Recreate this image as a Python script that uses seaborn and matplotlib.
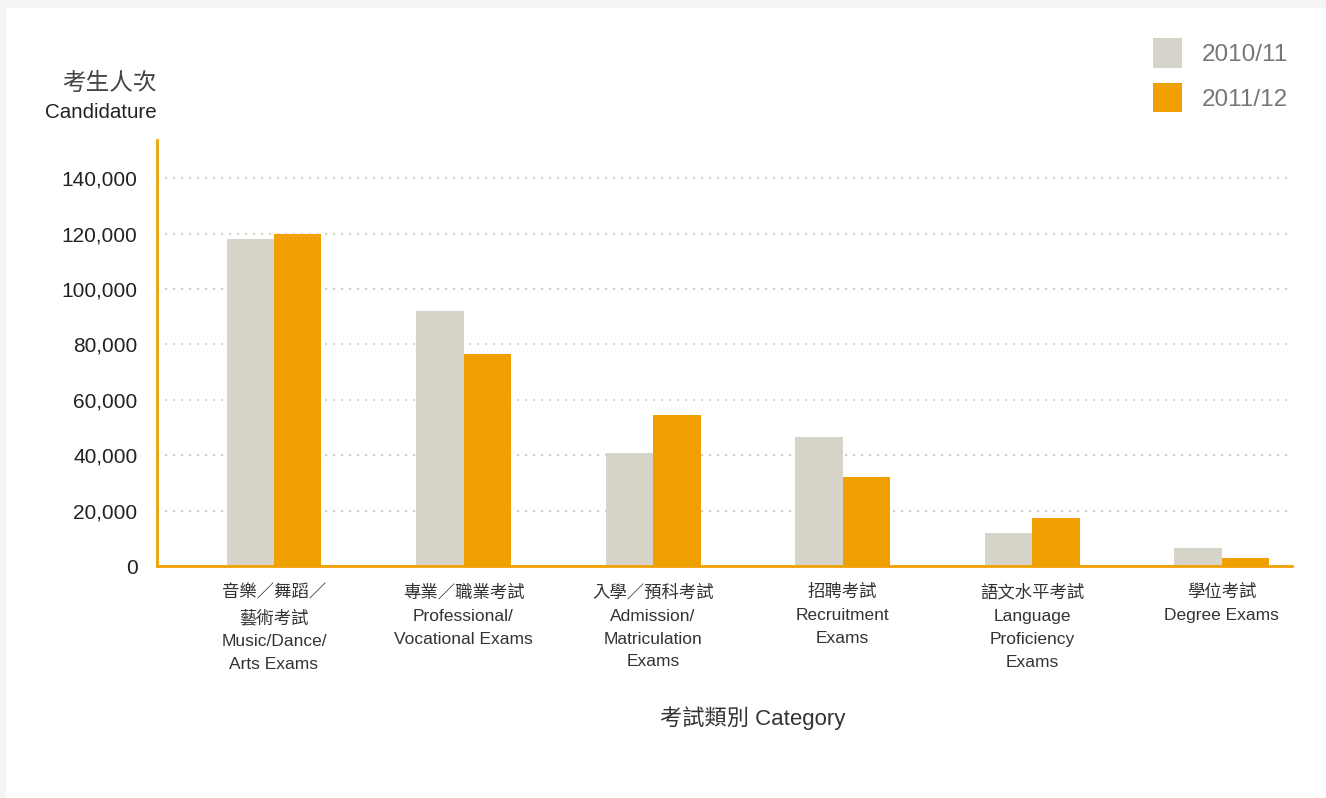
import matplotlib
matplotlib.use("Agg")
import matplotlib.pyplot as plt
import matplotlib.patches as mpatches
import seaborn as sns
import pandas as pd

categories = [
    "音樂／舞蹈／\n藝術考試\nMusic/Dance/\nArts Exams",
    "專業／職業考試\nProfessional/\nVocational Exams",
    "入學／預科考試\nAdmission/\nMatriculation\nExams",
    "招聘考試\nRecruitment\nExams",
    "語文水平考試\nLanguage\nProficiency\nExams",
    "學位考試\nDegree Exams",
]
series_names = ["2010/11", "2011/12"]
values_2010 = [118000, 92200, 40900, 46700, 11900, 6500]
values_2011 = [120000, 76700, 54600, 32200, 17400, 2900]
yticks = [0, 20000, 40000, 60000, 80000, 100000, 120000, 140000]

GRAY = "#D6D4C9"
ORANGE = "#F0A000"

df = pd.DataFrame({
    "category": categories * 2,
    "year": [series_names[0]] * len(categories) + [series_names[1]] * len(categories),
    "value": values_2010 + values_2011,
})

sns.set_theme(style="white")
plt.rcParams["font.family"] = ["Liberation Sans", "Noto Sans CJK TC", "DejaVu Sans"]

W, H = 1326, 798
fig = plt.figure(figsize=(W / 100, H / 100), dpi=100)
fig.patch.set_facecolor("#F4F4F4")
fig.patches.append(mpatches.Rectangle((6 / W, 0), 1, 1 - 8 / H, transform=fig.transFigure,
                                      facecolor="white", edgecolor="none", zorder=-10))

ax = fig.add_axes([157 / W, 1 - 566 / H, (1292 - 157) / W, (566 - 140) / H])
ax.set_facecolor("none")

sns.barplot(data=df, x="category", y="value", hue="year", palette=[GRAY, ORANGE],
            width=0.5, dodge=True, gap=0, ax=ax, legend=False, saturation=1)

for p in ax.patches:
    p.set_edgecolor("none")

ax.set_xlim(-0.617, 5.37)
ax.set_ylim(0, 153800)
ax.set_yticks(yticks)
ax.set_yticklabels([f"{v:,}" for v in yticks], fontsize=15, color="#222222")
ax.tick_params(axis="y", length=0, pad=14)
ax.tick_params(axis="x", length=0, pad=13)
ax.set_xticks(range(len(categories)))
ax.set_xticklabels(categories, fontsize=12.5, color="#333333", linespacing=1.66, va="top")

for v in yticks[1:]:
    ax.axhline(v, color=GRAY, linewidth=1.6, linestyle=(0, (1, 2.6)), zorder=0)

for s in ["top", "right"]:
    ax.spines[s].set_visible(False)
for s in ["left", "bottom"]:
    ax.spines[s].set_color(ORANGE)
    ax.spines[s].set_linewidth(2)
    ax.spines[s].set_zorder(5)

ax.set_xlabel("")
ax.set_ylabel("")

fig.text(157 / W, 1 - 84 / H, "考生人次", ha="right", va="center", fontsize=17, color="#444444")
fig.text(157 / W, 1 - 112 / H, "Candidature", ha="right", va="center", fontsize=14.8, color="#222222")
fig.text(753 / W, 1 - 718 / H, "考試類別 Category", ha="center", va="center", fontsize=16, color="#333333")

handles = [mpatches.Patch(facecolor=GRAY, edgecolor="none"),
           mpatches.Patch(facecolor=ORANGE, edgecolor="none")]
leg = fig.legend(handles, series_names, loc="upper left", bbox_to_anchor=(1148 / W, 1 - 33 / H),
                 frameon=False, fontsize=17.5, handlelength=1.2, handleheight=1.5,
                 labelspacing=0.63, handletextpad=0.8, borderaxespad=0, borderpad=0.2)
for t in leg.get_texts():
    t.set_color("#777777")

fig.savefig("out.png", dpi=100, facecolor=fig.get_facecolor())
